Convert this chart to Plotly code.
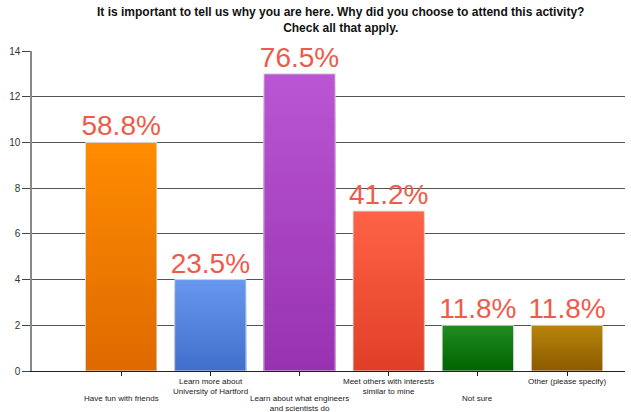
import plotly.graph_objects as go

categories = ["Have fun with friends", "Learn more about<br>University of Hartford",
              "Learn about what engineers<br>and scientists do",
              "Meet others with interests<br>similar to mine", "Not sure", "Other (please specify)"]
counts = [10, 4, 13, 7, 2, 2]
pct_labels = ["58.8%", "23.5%", "76.5%", "41.2%", "11.8%", "11.8%"]
top_colors = ["#ff8c00", "#6898ee", "#ba55d3", "#ff6347", "#228b22", "#b8860b"]
bottom_colors = ["#de6a00", "#3f6fcb", "#9832b0", "#df3f27", "#006400", "#8c5a00"]
y_ticks = [0, 2, 4, 6, 8, 10, 12, 14]
title_text = ("<b>It is important to tell us why you are here. Why did you choose to attend this activity?"
              "<br>Check all that apply.</b>")

x_pos = list(range(len(categories)))


def hex_to_rgb(h):
    h = h.lstrip("#")
    return [int(h[i:i + 2], 16) for i in (0, 2, 4)]


def mix(c1, c2, t):
    a, b = hex_to_rgb(c1), hex_to_rgb(c2)
    return "rgb(%d,%d,%d)" % tuple(round(a[i] + (b[i] - a[i]) * t) for i in range(3))


fig = go.Figure()
# vertical gradient fill: overlapping bars of decreasing height, each a bit darker
N = 40
for k in range(N):
    frac = 1 - k / N
    t = 1 - (k + 0.5) / N
    fig.add_trace(go.Bar(
        x=x_pos, y=[c * frac for c in counts], width=0.8,
        marker=dict(color=[mix(b, tc, t) for b, tc in zip(bottom_colors, top_colors)],
                    line=dict(width=0)),
        hoverinfo="skip",
    ))
# bar outline
fig.add_trace(go.Bar(
    x=x_pos, y=counts, width=0.8,
    marker=dict(color="rgba(0,0,0,0)", line=dict(color="rgba(225,225,225,0.9)", width=1)),
))
# percentage labels
fig.add_trace(go.Scatter(
    x=x_pos, y=counts, mode="text", text=pct_labels, textposition="top center",
    cliponaxis=False,
    textfont=dict(family="Liberation Sans, Arial", size=28, color="#ee5b4b"),
))

annotations = [dict(
    x=0.521, y=1, xref="paper", yref="paper", xanchor="center", yanchor="bottom",
    yshift=14, text=title_text, showarrow=False, align="center",
    font=dict(family="Liberation Sans, Arial", size=12, color="#111"),
)]
for i, lab in enumerate(categories):
    annotations.append(dict(
        x=i, y=0, xref="x", yref="paper", yanchor="top", xanchor="center",
        text=lab, showarrow=False, align="center",
        yshift=-4 if i % 2 == 1 else -21,
        font=dict(family="Liberation Sans, Arial", size=8, color="#222"),
    ))

fig.update_layout(
    width=631, height=412,
    margin=dict(l=32, r=6, t=51, b=41),
    paper_bgcolor="white", plot_bgcolor="white",
    showlegend=False,
    annotations=annotations,
    barmode="overlay",
)
fig.update_xaxes(range=[-1, 5.65], showticklabels=False, tickmode="array", tickvals=x_pos,
                 ticks="outside", ticklen=4, tickcolor="#222", showline=True, linecolor="#222",
                 linewidth=1, showgrid=False, zeroline=False)
fig.update_yaxes(range=[0, 14], tickvals=y_ticks, ticks="outside", ticklen=8, tickcolor="#444",
                 showline=True, linecolor="#888", linewidth=1.5, showgrid=True, gridcolor="#555",
                 gridwidth=1, zeroline=False,
                 tickfont=dict(family="Liberation Sans, Arial", size=10, color="#333"))

fig.write_html("out.html", config={"displayModeBar": False},
               post_script="document.body.style.margin='0';")
